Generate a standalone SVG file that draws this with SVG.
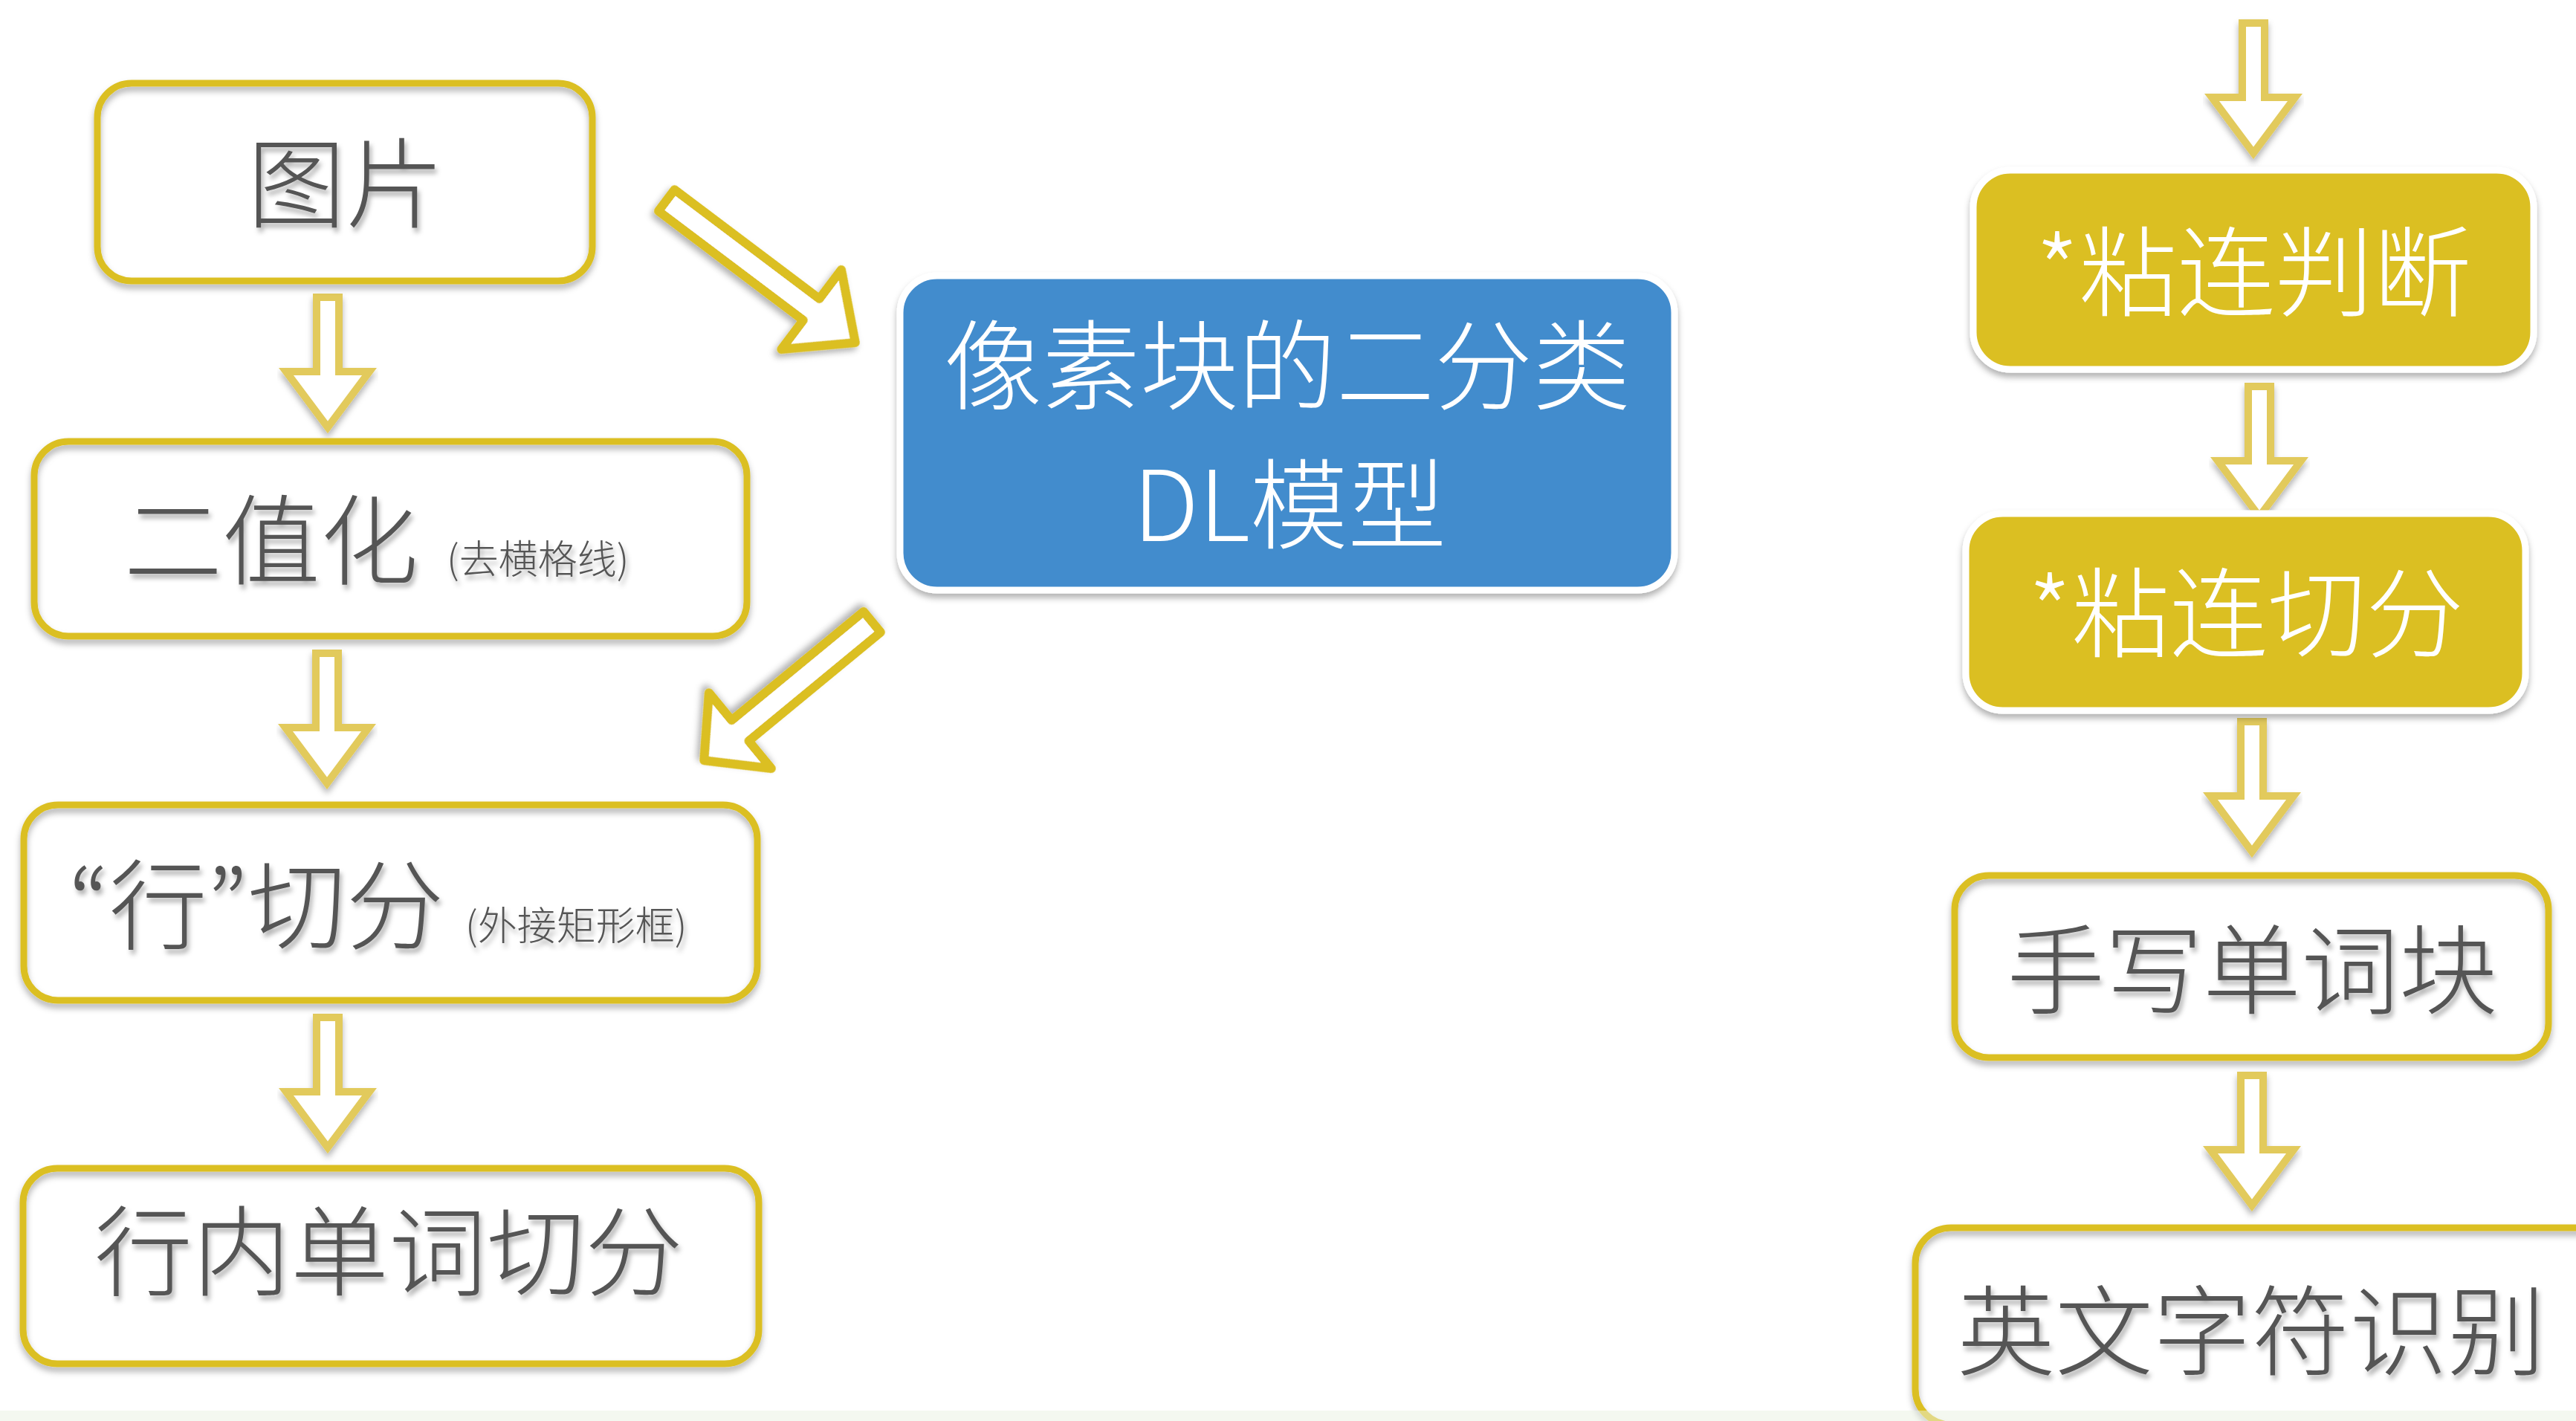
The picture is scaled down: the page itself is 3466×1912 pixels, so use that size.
<svg xmlns="http://www.w3.org/2000/svg" width="3466" height="1912" viewBox="0 0 3466 1912">
<defs>
<style>
.wfill{fill:#ffffff;stroke:none}
.ybox{fill:none;stroke:#dbbf22;stroke-width:9}
.cbox{stroke:#ffffff;stroke-width:9}
.gt{font-family:"Noto Sans CJK SC","Noto Sans",sans-serif;font-weight:300;font-size:132px;fill:#555555}
.gs{font-family:"Noto Sans CJK SC","Noto Sans",sans-serif;font-weight:300;font-size:53px;fill:#555555}
.wt{font-family:"Noto Sans CJK SC","Noto Sans",sans-serif;font-weight:300;font-size:132px;fill:#ffffff}
.q{font-family:"Noto Sans CJK JP","Noto Sans",sans-serif}
.varr{fill:#ffffff;stroke:#e2ca5c;stroke-width:10;stroke-linejoin:miter;stroke-miterlimit:10}
.darr{fill:#ffffff;stroke:#dbbf22;stroke-width:12;stroke-linejoin:round}
</style>
<filter id="sh" x="-10%" y="-10%" width="120%" height="130%">
<feDropShadow dx="0" dy="6" stdDeviation="4" flood-color="#000000" flood-opacity="0.3"/>
</filter>
<filter id="tsh" x="-10%" y="-10%" width="120%" height="130%">
<feDropShadow dx="3" dy="6" stdDeviation="3" flood-color="#000000" flood-opacity="0.3"/>
</filter>
<path id="down" d="M-15,5 H15 V105 H56 L0,180 L-56,105 H-15 Z"/>
</defs>
<rect x="0" y="0" width="3466" height="1912" fill="#ffffff"/>

<g id="connectors">
<use href="#down" class="varr" filter="url(#sh)" transform="translate(441,395)"/>
<use href="#down" class="varr" filter="url(#sh)" transform="translate(440,874)"/>
<use href="#down" class="varr" filter="url(#sh)" transform="translate(441,1364)"/>
<path class="darr" filter="url(#sh)" transform="translate(892,266) rotate(37)" d="M6,-18 H250 V-67 L324,0 L250,67 V18 H6 Z"/>
<path class="darr" filter="url(#sh)" transform="translate(1178,833) rotate(140.5)" d="M6,-18 H236 V-66 L299,0 L236,66 V18 H6 Z"/>
<use href="#down" class="varr" filter="url(#sh)" transform="translate(3032,26)"/>
<use href="#down" class="varr" filter="url(#sh)" transform="translate(3040,515)"/>
<use href="#down" class="varr" filter="url(#sh)" transform="translate(3030,966)"/>
<use href="#down" class="varr" filter="url(#sh)" transform="translate(3030,1442)"/>
</g>

<g id="node-tupian">
<rect class="wfill" x="131" y="112" width="666" height="266" rx="46"/>
<rect class="ybox" filter="url(#sh)" x="131" y="112" width="666" height="266" rx="46"/>
<text class="gt" filter="url(#tsh)" x="465" y="296" text-anchor="middle">图片</text>
</g>

<g id="node-erzhihua">
<rect class="wfill" x="46" y="594" width="959" height="262" rx="46"/>
<rect class="ybox" filter="url(#sh)" x="46" y="594" width="959" height="262" rx="46"/>
<text class="gt" filter="url(#tsh)" x="167" y="776">二值化</text>
<text class="gs" filter="url(#tsh)" x="601" y="772">(去横格线)</text>
</g>

<g id="node-hangqiefen">
<rect class="wfill" x="32" y="1083" width="987" height="263" rx="46"/>
<rect class="ybox" filter="url(#sh)" x="32" y="1083" width="987" height="263" rx="46"/>
<text class="gt" filter="url(#tsh)" x="92" y="1267"><tspan class="q">“</tspan>行<tspan class="q">”</tspan>切分</text>
<text class="gs" filter="url(#tsh)" x="626" y="1265">(外接矩形框)</text>
</g>

<g id="node-hangnei">
<rect class="wfill" x="31" y="1572" width="990" height="263" rx="46"/>
<rect class="ybox" filter="url(#sh)" x="31" y="1572" width="990" height="263" rx="46"/>
<text class="gt" filter="url(#tsh)" x="523" y="1733" text-anchor="middle">行内单词切分</text>
</g>

<g id="node-dl">
<rect class="cbox" filter="url(#sh)" x="1211" y="371" width="1042" height="423" rx="50" fill="#438ccd"/>
<text class="wt" x="1732" y="541" text-anchor="middle">像素块的二分类</text>
<text class="wt" x="1735" y="728" text-anchor="middle">DL模型</text>
</g>

<g id="node-zhanlianpanduan">
<rect class="cbox" filter="url(#sh)" x="2655" y="229" width="754" height="268" rx="50" fill="#dbbf22"/>
<text class="wt" x="3032" y="415" text-anchor="middle">*粘连判断</text>
</g>

<g id="node-zhanlianqiefen">
<rect class="cbox" filter="url(#sh)" x="2645" y="691" width="753" height="265" rx="50" fill="#dbbf22"/>
<text class="wt" x="3022" y="874" text-anchor="middle">*粘连切分</text>
</g>

<g id="node-shouxie">
<rect class="wfill" x="2630" y="1178" width="799" height="245" rx="46"/>
<rect class="ybox" filter="url(#sh)" x="2630" y="1178" width="799" height="245" rx="46"/>
<text class="gt" filter="url(#tsh)" x="3030" y="1354" text-anchor="middle">手写单词块</text>
</g>

<g id="node-yingwen">
<rect class="wfill" x="2577" y="1652" width="950" height="265" rx="48"/>
<rect class="ybox" filter="url(#sh)" x="2577" y="1652" width="950" height="265" rx="48"/>
<text class="gt" filter="url(#tsh)" x="3029" y="1840" text-anchor="middle">英文字符识别</text>
</g>

<rect x="0" y="1898" width="3466" height="14" fill="#e9f1e2" opacity="0.5"/>
</svg>
